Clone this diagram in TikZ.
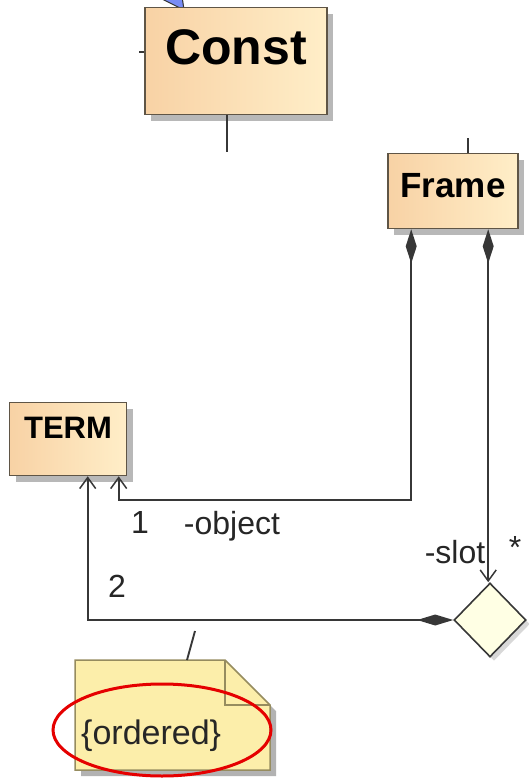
\documentclass[tikz,border=0pt]{standalone}
\usepackage{fontspec}
\setmainfont{Liberation Sans}
\usetikzlibrary{arrows.meta,shapes.geometric,shadows,calc}
\definecolor{boxline}{RGB}{95,85,70}
\definecolor{peachL}{RGB}{248,210,165}
\definecolor{peachR}{RGB}{255,238,200}
\definecolor{notefill}{RGB}{252,238,170}
\definecolor{noteline}{RGB}{150,140,95}
\definecolor{conn}{RGB}{55,55,55}
\definecolor{diafill}{RGB}{255,255,228}
\definecolor{blu}{RGB}{120,140,245}
\tikzset{
  classbox/.style={draw=boxline, line width=1.6pt, left color=peachL, right color=peachR,
    inner sep=0pt, drop shadow={shadow xshift=6pt, shadow yshift=-6pt, fill=black!35, opacity=0.8}},
  conline/.style={draw=conn, line width=1.9pt},
  lbl/.style={font=\fontsize{32}{36}\selectfont, text=black!85, inner sep=0pt},
}
\begin{document}
\begin{tikzpicture}[x=1pt,y=-1pt]
\useasboundingbox (0,0) rectangle (529,779);
% blue triangle at top
\draw[fill=blu, draw=black!80, line width=1pt] (156,-4) -- (182,-4) -- (184,10) -- cycle;
% classes
\node[classbox, minimum width=182pt, minimum height=107pt, font=\fontsize{50}{56}\selectfont\bfseries] (const) at (236,61) {\raisebox{28pt}{Const}};
\node[classbox, minimum width=130pt, minimum height=75pt, font=\fontsize{35}{40}\selectfont\bfseries] (frame) at (453,191) {\raisebox{12pt}{Frame}};
\node[classbox, minimum width=117pt, minimum height=73pt, font=\fontsize{31}{36}\selectfont\bfseries] (term) at (68,439) {\raisebox{22pt}{TERM}};
\node[draw=conn, line width=1.6pt, fill=diafill, diamond, aspect=1, minimum width=72pt, minimum height=74pt, inner sep=0pt,
  drop shadow={shadow xshift=4pt, shadow yshift=-4pt, fill=black!30}] (assoc) at (490,620) {};
% stubs
\coordinate (cstub) at (139,52);
\draw[conline] (cstub) -- (cstub -| const.west);
\coordinate (cdown) at (227,152);
\draw[conline] ($(const.south)+(-9,0)$) -- (cdown);
\coordinate (fup) at (468,138);
\draw[conline] (fup) -- (fup |- frame.north);
% connectors
\coordinate (fl) at ($(frame.south west)+(24,0)$);
\coordinate (fr) at ($(frame.south west)+(101,0)$);
\coordinate (tr) at ($(term.south west)+(110,0)$);
\coordinate (tl) at ($(term.south west)+(79,0)$);
\coordinate (objcorner) at (413,500);
\draw[conline, {Diamond[length=34pt,width=11pt,fill=conn]}-{Straight Barb[length=11pt,width=16pt,line width=1.5pt]}]
  (fl) -- (fl |- objcorner) -- (tr |- objcorner) -- (tr);
\draw[conline, {Diamond[length=34pt,width=11pt,fill=conn]}-{Straight Barb[length=11pt,width=16pt,line width=1.5pt]}]
  (fr) -- (fr |- assoc.north);
\draw[conline, {Straight Barb[length=11pt,width=16pt,line width=1.5pt]}-{Diamond[length=36pt,width=11pt,fill=conn]}]
  (tl) -- (tl |- assoc.west) -- (assoc.west);
% labels
\node[lbl] (l1) at (140,522) {1};
\node[lbl] (lobj) at (232,526) {-object};
\node[lbl] (l2) at (117,586) {2};
\node[lbl] (lslot) at (455,552) {-slot};
\node[lbl] (lstar) at (515,547) {*};
% note
\fill[black!30] (81,666) -- (231,666) -- (276,711) -- (276,776) -- (81,776) -- cycle;
\draw[fill=notefill, draw=noteline, line width=1.5pt] (75,660) -- (225,660) -- (270,705) -- (270,770) -- (75,770) -- cycle;
\draw[draw=noteline, line width=1.5pt] (225,660) -- (225,705) -- (270,705);
\node[font=\fontsize{34}{38}\selectfont, text=black!85, anchor=base west, inner sep=0pt] (note) at (81,744) {\{ordered\}};
\coordinate (nanchor) at (195,631);
\draw[conline] (187,660) -- (nanchor);
% red ellipse
\draw[red!90!black, line width=3pt] (162,730) ellipse [x radius=109, y radius=46];
\end{tikzpicture}
\end{document}
